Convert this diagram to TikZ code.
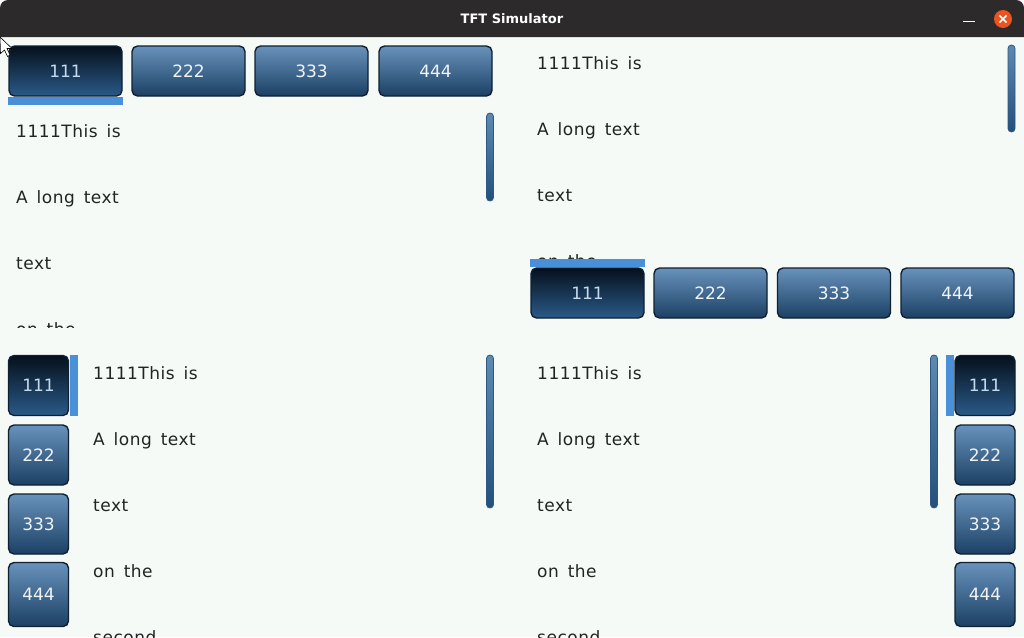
\documentclass[tikz,border=0pt]{standalone}
\usepackage{fontspec}
\setmainfont{DejaVu Sans}
\newfontfamily\bodyfont[LetterSpace=3,WordSpace=1.5]{DejaVu Sans}
\newfontfamily\btnfont{DejaVu Sans}
\definecolor{titlebg}{RGB}{44,42,43}
\definecolor{pagebg}{RGB}{246,250,247}
\definecolor{txtcol}{RGB}{34,36,36}
\definecolor{acttop}{RGB}{6,16,28}
\definecolor{actbot}{RGB}{42,90,136}
\definecolor{inatop}{RGB}{104,146,187}
\definecolor{inabot}{RGB}{28,64,100}
\definecolor{btnborder}{RGB}{14,32,50}
\definecolor{actlabel}{RGB}{196,218,238}
\definecolor{inalabel}{RGB}{240,244,248}
\definecolor{indic}{RGB}{74,144,217}
\definecolor{sbtop}{RGB}{94,138,178}
\definecolor{sbbot}{RGB}{34,80,124}
\definecolor{sbborder}{RGB}{44,88,130}
\definecolor{closeorange}{RGB}{233,84,32}
\tikzset{
  btnbase/.style={draw=btnborder, line width=1.4pt, rounded corners=5.5pt, inner sep=0pt, outer sep=0pt,
    font=\btnfont\fontsize{17}{20}\selectfont},
  actbtn/.style={btnbase, top color=acttop, bottom color=actbot, text=actlabel},
  inabtn/.style={btnbase, top color=inatop, bottom color=inabot, text=inalabel},
  hbtn/.style={minimum width=113pt, minimum height=50pt},
  vbtn/.style={minimum width=60pt, minimum height=60pt},
  indicator/.style={fill=indic, draw=none, inner sep=0pt, outer sep=0pt},
  sbar/.style={draw=sbborder, line width=0.8pt, top color=sbtop, bottom color=sbbot, rounded corners=3.5pt,
    inner sep=0pt, outer sep=0pt, minimum width=7pt},
  bodytext/.style={anchor=base west, inner sep=0pt, text=txtcol, font=\bodyfont\fontsize{17}{20}\selectfont},
}
\begin{document}
\begin{tikzpicture}[x=1pt, y=-1pt]
\useasboundingbox (0,0) rectangle (1024,637);
\clip (0,0) rectangle (1024,637);
% background
\fill[white] (0,0) rectangle (1024,637);
\fill[pagebg] (0,37) rectangle (1024,637);
% title bar
\fill[titlebg] (0,37) [rounded corners=8pt] -- (0,0) -- (1024,0) [sharp corners] -- (1024,37) -- cycle;
\node[text=white, font=\bfseries\fontsize{13}{15}\selectfont, inner sep=0pt] (title) at (512,18.5) {TFT Simulator};
\node[fill=closeorange, circle, minimum size=18pt, inner sep=0pt] (close) at (1003,19) {};
\draw[white, line width=1.5pt] ([shift={(-3.6pt,-3.6pt)}]close.center) -- ([shift={(3.6pt,3.6pt)}]close.center);
\draw[white, line width=1.5pt] ([shift={(-3.6pt,3.6pt)}]close.center) -- ([shift={(3.6pt,-3.6pt)}]close.center);
\coordinate (minl) at (963,21.5);
\coordinate (minr) at (975,21.5);
\draw[white, line width=1.4pt] (minl) -- (minr);

% ---------- top-left tabview (tabs on top) ----------
\node[actbtn, hbtn] (tl1) at (65.5,71) {111};
\node[inabtn, hbtn] (tl2) at (188.5,71) {222};
\node[inabtn, hbtn] (tl3) at (311.5,71) {333};
\node[inabtn, hbtn] (tl4) at (435.5,71) {444};
\fill[indicator] (8,97) rectangle (123,104.5);
\begin{scope}
\clip (0,106) rectangle (512,327);
\node[bodytext] (tlt1) at (16,137) {1111This is};
\node[bodytext] (tlt2) at (16,203) {A long text};
\node[bodytext] (tlt3) at (16,269) {text};
\node[bodytext] (tlt4) at (16,335) {on the};
\end{scope}
\node[sbar, minimum height=88pt] (tlsb) at (490,157) {};

% ---------- top-right tabview (tabs at bottom) ----------
\begin{scope}
\clip (512,37) rectangle (1024,259);
\node[bodytext] (trt1) at (537,69) {1111This is};
\node[bodytext] (trt2) at (537,135) {A long text};
\node[bodytext] (trt3) at (537,201) {text};
\node[bodytext] (trt4) at (537,267) {on the};
\end{scope}
\node[sbar, minimum height=87pt] (trsb) at (1011.5,88.5) {};
\fill[indicator] (530,259) rectangle (645,266.5);
\node[actbtn, hbtn] (tr1) at (587.5,293) {111};
\node[inabtn, hbtn] (tr2) at (710.5,293) {222};
\node[inabtn, hbtn] (tr3) at (834,293) {333};
\node[inabtn, hbtn] (tr4) at (957.5,293) {444};

% ---------- bottom-left tabview (tabs on left) ----------
\node[actbtn, vbtn] (bl1) at (38.5,385.5) {111};
\node[inabtn, vbtn] (bl2) at (38.5,455) {222};
\node[inabtn, vbtn] (bl3) at (38.5,524) {333};
\node[inabtn, vbtn, minimum height=64pt] (bl4) at (38.5,594.5) {444};
\fill[indicator] (70,355) rectangle (78,416);
\node[bodytext] (blt1) at (93,379) {1111This is};
\node[bodytext] (blt2) at (93,445) {A long text};
\node[bodytext] (blt3) at (93,511) {text};
\node[bodytext] (blt4) at (93,577) {on the};
\node[bodytext] (blt5) at (93,643) {second};
\node[sbar, minimum height=153pt] (blsb) at (490,431.5) {};

% ---------- bottom-right tabview (tabs on right) ----------
\node[bodytext] (brt1) at (537,379) {1111This is};
\node[bodytext] (brt2) at (537,445) {A long text};
\node[bodytext] (brt3) at (537,511) {text};
\node[bodytext] (brt4) at (537,577) {on the};
\node[bodytext] (brt5) at (537,643) {second};
\node[sbar, minimum height=153pt] (brsb) at (934,431.5) {};
\fill[indicator] (946,355) rectangle (954,416);
\node[actbtn, vbtn] (br1) at (985,385.5) {111};
\node[inabtn, vbtn] (br2) at (985,455) {222};
\node[inabtn, vbtn] (br3) at (985,524) {333};
\node[inabtn, vbtn, minimum height=64pt] (br4) at (985,594.5) {444};

% mouse pointer
\filldraw[fill=white, draw=black, line width=0.6pt, line join=miter]
  (0,37) -- (12,48.5) -- (7,48.5) -- (10,55) -- (7.5,56.5) -- (4.5,50) -- (0.5,53.5) -- cycle;
\end{tikzpicture}
\end{document}
